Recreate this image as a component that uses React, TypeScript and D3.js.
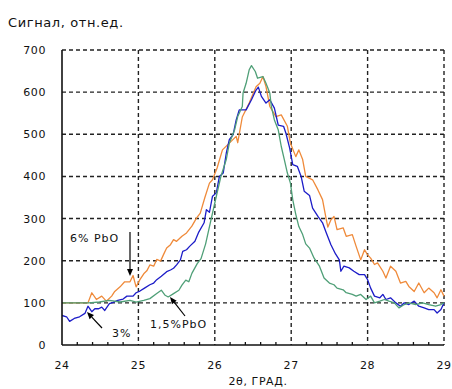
import React from "react";
import * as d3 from "d3";

const xTicks = [24, 25, 26, 27, 28, 29];
const yTicks = [0, 100, 200, 300, 400, 500, 600, 700];

const orange: [number, number][] = [
  [24.0, 100], [24.34, 100], [24.39, 124], [24.45, 108], [24.52, 116], [24.58, 104], [24.65, 116], [24.69, 127],
  [24.76, 138], [24.82, 150], [24.89, 150], [24.93, 165], [24.97, 138], [25.02, 155], [25.07, 169], [25.11, 176],
  [25.15, 190], [25.2, 187], [25.24, 203], [25.29, 199], [25.33, 215], [25.37, 230], [25.42, 238], [25.46, 250],
  [25.5, 246], [25.57, 258], [25.63, 266], [25.7, 282], [25.76, 301], [25.81, 313], [25.87, 350], [25.93, 384],
  [25.97, 392], [26.03, 420], [26.1, 463], [26.19, 479], [26.28, 495], [26.3, 480], [26.36, 541], [26.45, 574],
  [26.54, 613], [26.59, 621], [26.63, 637], [26.67, 613], [26.72, 566], [26.8, 542], [26.87, 546], [26.95, 519],
  [26.99, 479], [27.06, 447], [27.1, 463], [27.15, 440], [27.19, 400], [27.28, 392], [27.35, 368], [27.41, 345],
  [27.46, 297], [27.48, 280], [27.52, 297], [27.56, 305], [27.6, 274], [27.68, 278], [27.72, 258], [27.8, 262],
  [27.85, 234], [27.91, 202], [27.96, 226], [28.0, 214], [28.04, 206], [28.09, 191], [28.13, 195], [28.2, 175],
  [28.24, 159], [28.3, 187], [28.37, 175], [28.43, 147], [28.5, 151], [28.54, 139], [28.61, 127], [28.67, 147],
  [28.74, 124], [28.8, 135], [28.87, 124], [28.91, 112], [28.96, 131], [29.0, 116],
];

const blue: [number, number][] = [
  [24.0, 70], [24.06, 67], [24.1, 56], [24.16, 63], [24.23, 67], [24.3, 75], [24.34, 92], [24.39, 79],
  [24.43, 86], [24.48, 86], [24.52, 90], [24.56, 82], [24.62, 98], [24.67, 101], [24.73, 106], [24.8, 109],
  [24.85, 116], [24.93, 116], [24.97, 124], [25.02, 128], [25.08, 135], [25.15, 143], [25.2, 147], [25.24, 155],
  [25.3, 163], [25.37, 174], [25.42, 178], [25.46, 182], [25.5, 190], [25.55, 202], [25.58, 222], [25.63, 226],
  [25.67, 234], [25.74, 246], [25.79, 268], [25.86, 290], [25.89, 321], [25.93, 315], [25.97, 353], [26.02, 361],
  [26.06, 400], [26.11, 408], [26.15, 455], [26.19, 487], [26.24, 499], [26.28, 534], [26.32, 558], [26.41, 558],
  [26.48, 582], [26.54, 605], [26.57, 612], [26.61, 590], [26.67, 574], [26.72, 582], [26.78, 562], [26.83, 522],
  [26.9, 519], [26.93, 503], [26.98, 467], [27.02, 428], [27.08, 424], [27.13, 400], [27.17, 365], [27.24, 355],
  [27.28, 325], [27.35, 305], [27.41, 290], [27.46, 266], [27.52, 238], [27.58, 216], [27.63, 202], [27.65, 175],
  [27.69, 187], [27.76, 183], [27.82, 175], [27.89, 167], [27.96, 167], [28.0, 155], [28.04, 135], [28.09, 116],
  [28.16, 112], [28.2, 120], [28.24, 108], [28.3, 112], [28.37, 100], [28.43, 92], [28.48, 100], [28.54, 96],
  [28.61, 104], [28.67, 92], [28.74, 88], [28.8, 84], [28.87, 84], [28.91, 76], [28.96, 84], [29.0, 100],
];

const green: [number, number][] = [
  [24.0, 100], [24.35, 100], [24.49, 102], [24.62, 106], [24.76, 102], [24.89, 106], [24.97, 102], [25.07, 106],
  [25.15, 110], [25.24, 122], [25.3, 130], [25.35, 118], [25.39, 114], [25.46, 122], [25.53, 130], [25.57, 142],
  [25.62, 154], [25.66, 150], [25.7, 170], [25.77, 193], [25.82, 205], [25.88, 240], [25.95, 297], [26.02, 353],
  [26.08, 400], [26.15, 440], [26.19, 479], [26.26, 511], [26.3, 542], [26.36, 566], [26.37, 598], [26.41, 621],
  [26.45, 653], [26.48, 663], [26.53, 649], [26.56, 633], [26.63, 637], [26.67, 621], [26.72, 598], [26.74, 566],
  [26.78, 534], [26.83, 511], [26.87, 471], [26.91, 440], [26.95, 408], [26.99, 384], [27.02, 345], [27.06, 310],
  [27.1, 281], [27.15, 262], [27.19, 240], [27.24, 230], [27.3, 206], [27.37, 187], [27.43, 159], [27.5, 147],
  [27.56, 143], [27.6, 135], [27.68, 131], [27.72, 124], [27.8, 120], [27.85, 116], [27.91, 120], [27.98, 108],
  [28.04, 116], [28.09, 100], [28.16, 104], [28.22, 108], [28.28, 104], [28.35, 100], [28.41, 88], [28.48, 96],
  [28.54, 100], [28.63, 96], [28.72, 100], [28.8, 96], [28.89, 92], [28.96, 96], [29.0, 100],
];

const series = [
  { name: "6% PbO", color: "#ef8a3a", data: orange },
  { name: "3%", color: "#1c1cc8", data: blue },
  { name: "1,5%PbO", color: "#4f9f77", data: green },
];

const minorTicks = [24.2, 24.4, 24.6, 24.8, 25.2, 25.4, 25.6, 25.8, 26.2, 26.4, 26.6, 26.8, 27.2, 27.4, 27.6, 27.8, 28.2, 28.4, 28.6, 28.8];

export default function App() {
  const W = 452, H = 389;
  const x = d3.scaleLinear().domain([24, 29]).range([62, 444]);
  const y = d3.scaleLinear().domain([0, 700]).range([345, 50]);
  const line = d3.line<[number, number]>().x((d) => x(d[0])).y((d) => y(d[1]));
  const font = "'DejaVu Sans', Verdana, sans-serif";

  const arrow = (x1: number, y1: number, x2: number, y2: number, key: string) => {
    const ang = Math.atan2(y2 - y1, x2 - x1);
    const L = 7, Wd = 3;
    const bx = x2 - L * Math.cos(ang), by = y2 - L * Math.sin(ang);
    const px = -Math.sin(ang) * Wd, py = Math.cos(ang) * Wd;
    return (
      <g key={key}>
        <line x1={x1} y1={y1} x2={bx} y2={by} stroke="#000" strokeWidth={1.2} />
        <polygon points={`${x2},${y2} ${bx + px},${by + py} ${bx - px},${by - py}`} fill="#000" />
      </g>
    );
  };

  return (
    <svg width={W} height={H} style={{ position: "absolute", left: 0, top: 0, background: "#fff" }} fontFamily={font}>
      <rect width={W} height={H} fill="#fff" />
      <text x={8} y={27} fontSize={13} fill="#111" letterSpacing={0.6}>Сигнал, отн.ед.</text>

      {/* grid */}
      {yTicks.filter((t) => t > 0).map((t) => (
        <line key={"gy" + t} x1={x(24)} x2={x(29)} y1={y(t)} y2={y(t)} stroke="#222" strokeWidth={1.4} strokeDasharray="4,3" />
      ))}
      {xTicks.filter((t) => t > 24).map((t) => (
        <line key={"gx" + t} x1={x(t)} x2={x(t)} y1={y(700)} y2={y(0)} stroke="#222" strokeWidth={1.4} strokeDasharray="4,3" />
      ))}

      {/* series */}
      {series.map((s) => (
        <path key={s.name} d={line(s.data) || ""} fill="none" stroke={s.color} strokeWidth={1.3} strokeLinejoin="round" />
      ))}

      {/* axes */}
      <line x1={x(24)} x2={x(24)} y1={y(700)} y2={y(0)} stroke="#111" strokeWidth={1.6} />
      <line x1={x(24)} x2={x(29)} y1={y(0)} y2={y(0)} stroke="#111" strokeWidth={1.6} />
      {minorTicks.map((t) => (
        <line key={"mt" + t} x1={x(t)} x2={x(t)} y1={y(0)} y2={y(0) - 3} stroke="#111" strokeWidth={1.3} />
      ))}

      {yTicks.map((t) => (
        <text key={"yl" + t} x={46} y={y(t) + 4} fontSize={11} textAnchor="end" fill="#111" letterSpacing={0.6}>{t}</text>
      ))}
      {xTicks.map((t) => (
        <text key={"xl" + t} x={x(t)} y={369} fontSize={11} textAnchor="middle" fill="#111" letterSpacing={0.6}>{t}</text>
      ))}
      <text x={258} y={385} fontSize={11} textAnchor="middle" fill="#111" letterSpacing={0.6}>2θ, ГРАД.</text>

      {/* annotations */}
      <text x={70} y={242} fontSize={11} fill="#111" letterSpacing={1}>6% PbO</text>
      {arrow(130, 232, 130, 276, "a1")}
      <text x={112} y={337} fontSize={11} fill="#111" letterSpacing={1}>3%</text>
      {arrow(102, 328, 87, 312, "a2")}
      <text x={150} y={328} fontSize={11} fill="#111" letterSpacing={1}>1,5%PbO</text>
      {arrow(185, 316, 170, 297, "a3")}
    </svg>
  );
}
